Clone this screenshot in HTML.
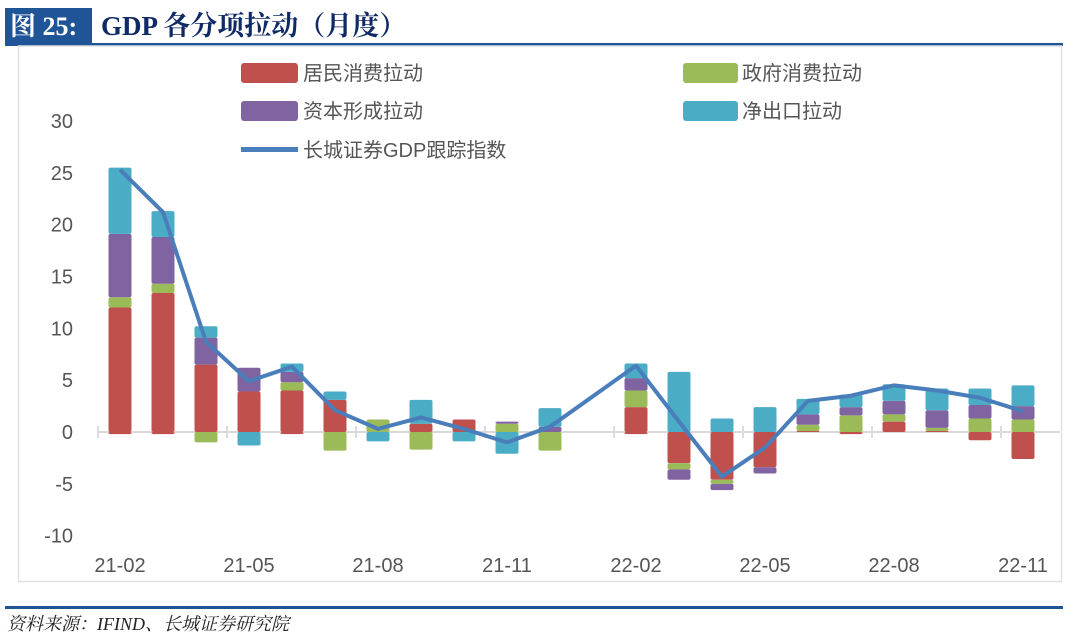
<!DOCTYPE html>
<html><head><meta charset="utf-8"><style>
body{margin:0;background:#fff;width:1080px;height:642px;overflow:hidden}
svg{display:block}
</style></head><body>
<svg id="s" width="1080" height="642" xmlns="http://www.w3.org/2000/svg" font-family="Liberation Sans, Noto Sans CJK SC, sans-serif">
<rect x="5" y="8" width="87" height="35" fill="#1f5597"/>
<text x="10" y="35" fill="#fff" font-size="26" font-weight="bold" font-family="Liberation Serif, Noto Serif CJK SC, serif">图 25:</text>
<text x="101" y="35" fill="#102a66" font-size="27" font-weight="bold" font-family="Liberation Serif, Noto Serif CJK SC, serif">GDP 各分项拉动（月度）</text>
<rect x="5" y="43" width="1058" height="3" fill="#1f5597"/>
<rect x="18.5" y="46" width="1043" height="535.5" fill="none" stroke="#e0e0e0" stroke-width="1.5"/>
<rect x="5" y="606" width="1058" height="3" fill="#1f5597"/>
<text x="7" y="630" fill="#222" font-size="18" font-style="italic" font-family="Liberation Serif, Noto Serif CJK SC, serif">资料来源：IFIND、长城证券研究院</text>
<g font-size="20" fill="#555">
<rect x="241" y="63" width="57" height="20" rx="3" fill="#c0504d"/><text x="303" y="80">居民消费拉动</text>
<rect x="683" y="63" width="55" height="20" rx="3" fill="#9bbb59"/><text x="742" y="80">政府消费拉动</text>
<rect x="241" y="101" width="57" height="20" rx="3" fill="#8064a2"/><text x="303" y="118">资本形成拉动</text>
<rect x="683" y="101" width="55" height="20" rx="3" fill="#4bacc6"/><text x="742" y="118">净出口拉动</text>
<rect x="241" y="147" width="57" height="5" fill="#4a7ebb"/><text x="303" y="157">长城证券GDP跟踪指数</text>
</g>
<g id="g"></g>
</svg>
<script>
var Z=432,K=10.37,g=document.getElementById('g'),h='';
function Y(v){return Z-K*v}
[30,25,20,15,10,5,0,-5,-10].forEach(function(v){h+='<text x="73" y="'+(Y(v)+7)+'" text-anchor="end" font-size="20" fill="#555">'+v+'</text>'});
h+='<line x1="98" y1="432" x2="1060" y2="432" stroke="#d9d9d9" stroke-width="2"/>';
for(var k=0;k<8;k++){var tx=98+129*k;h+='<line x1="'+tx+'" y1="426" x2="'+tx+'" y2="438" stroke="#dcdcdc" stroke-width="2"/>'}
['21-02','21-05','21-08','21-11','22-02','22-05','22-08','22-11'].forEach(function(l,i){h+='<text x="'+(120+129*i)+'" y="572" text-anchor="middle" font-size="20" fill="#555">'+l+'</text>'});
var D=[
[0,[12,1,6.1,6.4],[-0.2,0,0,0],25.3],
[1,[13.4,0.9,4.5,2.5],[-0.2,0,0,0],21.2],
[2,[6.5,0,2.6,1.1],[0,-1,0,0],8.7],
[3,[3.9,0,2.3,0],[0,0,0,-1.3],4.9],
[4,[4,0.8,1,0.8],[-0.2,0,0,0],6.3],
[5,[3.1,0,0,0.8],[0,-1.8,0,0],2.1],
[6,[0,1.2,0,0],[0,0,0,-0.9],0.3],
[7,[0.8,0,0,2.3],[0,-1.7,0,0],1.4],
[8,[1.2,0,0,0],[0,0,0,-0.9],0.3],
[9,[0,0.8,0.2,0],[0,0,0,-2.1],-1.0],
[10,[0,0,0.5,1.8],[0,-1.8,0,0],0.5],
[12,[2.4,1.6,1.2,1.4],[-0.2,0,0,0],6.4],
[13,[0,0,0,5.8],[-3,-0.6,-1,0],1.0],
[14,[0,0,0,1.3],[-4.6,-0.4,-0.6,0],-4.3],
[15,[0,0,0,2.4],[-3.4,0,-0.6,0],-1.5],
[16,[0.1,0.6,1,1.5],[0,0,0,0],3.0],
[17,[0,1.6,0.8,1.2],[-0.2,0,0,0],3.5],
[18,[1,0.7,1.3,1.6],[0,0,0,0],4.5],
[19,[0.1,0.3,1.7,2.1],[0,0,0,0],4.0],
[20,[0,1.3,1.3,1.6],[-0.8,0,0,0],3.3],
[21,[0,1.2,1.3,2],[-2.6,0,0,0],2.0]];
var C=['#c0504d','#9bbb59','#8064a2','#4bacc6'],pts=[];
D.forEach(function(d){var x=120+43*d[0]-11.5,p=0,n=0;
for(var i=0;i<4;i++){var v=d[1][i];if(v>0){h+='<rect x="'+x+'" y="'+Y(p+v)+'" width="23" height="'+(v*K)+'" rx="2" fill="'+C[i]+'"/>';p+=v}
v=d[2][i];if(v<0){h+='<rect x="'+x+'" y="'+Y(n)+'" width="23" height="'+(-v*K)+'" rx="2" fill="'+C[i]+'"/>';n+=v}}
pts.push((x+11.5)+','+Y(d[3]))});
h+='<polyline points="'+pts.join(' ')+'" fill="none" stroke="#4a7ebb" stroke-width="4" stroke-linejoin="round"/>';
g.innerHTML=h;
</script>
</body></html>
